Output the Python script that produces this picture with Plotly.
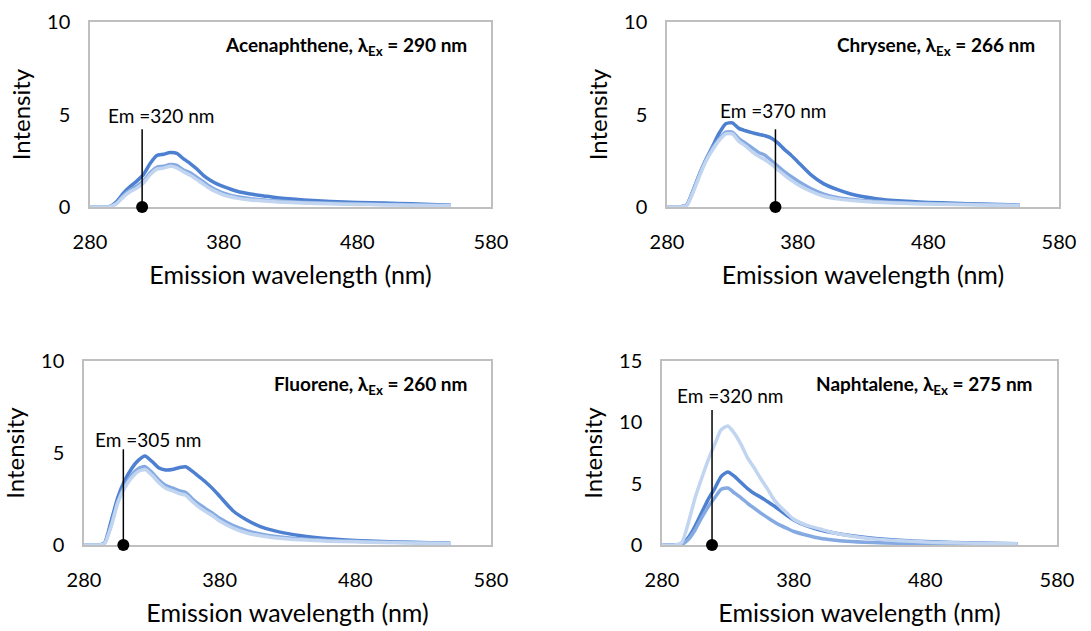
import plotly.graph_objects as go

# ---------------- data ----------------
wavelength = [280, 290, 295, 300, 305, 310, 315, 320, 325, 330, 335, 340, 345, 350, 355,
              360, 365, 370, 375, 380, 390, 400, 410, 420, 440, 460, 480, 500, 520, 550]

acen_dark = [0, 0, 0.03, 0.3, 0.75, 1.1, 1.4, 1.75, 2.35, 2.78, 2.85, 2.95, 2.9, 2.6, 2.35,
             2.05, 1.7, 1.45, 1.25, 1.1, 0.85, 0.7, 0.6, 0.5, 0.38, 0.3, 0.25, 0.21, 0.17, 0.1]
acen_med = [0, 0, 0.02, 0.22, 0.62, 0.92, 1.12, 1.4, 1.85, 2.15, 2.2, 2.3, 2.25, 2.0, 1.85,
            1.6, 1.35, 1.1, 0.9, 0.75, 0.55, 0.45, 0.38, 0.32, 0.25, 0.2, 0.17, 0.14, 0.12, 0.08]
acen_light = [0, 0, 0.02, 0.18, 0.55, 0.82, 1.02, 1.3, 1.75, 2.05, 2.1, 2.2, 2.12, 1.9, 1.72,
              1.48, 1.22, 0.98, 0.8, 0.65, 0.48, 0.38, 0.32, 0.27, 0.21, 0.17, 0.14, 0.12, 0.1, 0.07]

chry_dark = [0, 0, 0.1, 0.9, 1.8, 2.6, 3.3, 4.0, 4.5, 4.55, 4.25, 4.12, 4.02, 3.93, 3.85,
             3.72, 3.45, 3.1, 2.8, 2.45, 1.75, 1.25, 0.95, 0.72, 0.45, 0.32, 0.25, 0.2, 0.16, 0.1]
chry_med = [0, 0, 0.1, 0.9, 1.8, 2.6, 3.2, 3.7, 4.05, 4.05, 3.7, 3.45, 3.2, 2.95, 2.8,
            2.5, 2.2, 1.9, 1.65, 1.4, 1.0, 0.7, 0.52, 0.42, 0.3, 0.23, 0.19, 0.16, 0.13, 0.09]
chry_light = [0, 0, 0.08, 0.8, 1.7, 2.5, 3.1, 3.6, 3.95, 3.95, 3.55, 3.3, 3.0, 2.75, 2.55,
              2.3, 2.0, 1.72, 1.45, 1.22, 0.85, 0.58, 0.44, 0.36, 0.26, 0.2, 0.16, 0.13, 0.11, 0.08]

fluo_dark = [0, 0, 0.1, 1.3, 2.6, 3.5, 4.15, 4.6, 4.84, 4.55, 4.2, 4.08, 4.1, 4.2, 4.25,
             4.0, 3.7, 3.4, 3.05, 2.65, 1.85, 1.36, 1.0, 0.78, 0.5, 0.34, 0.25, 0.19, 0.15, 0.1]
fluo_med = [0, 0, 0.08, 1.1, 2.4, 3.2, 3.8, 4.15, 4.26, 3.95, 3.55, 3.25, 3.1, 2.95, 2.85,
            2.5, 2.2, 1.95, 1.72, 1.45, 1.05, 0.78, 0.6, 0.48, 0.33, 0.25, 0.2, 0.16, 0.13, 0.09]
fluo_light = [0, 0, 0.06, 1.0, 2.3, 3.1, 3.65, 4.0, 4.1, 3.8, 3.4, 3.1, 2.95, 2.8, 2.7,
              2.35, 2.05, 1.8, 1.58, 1.3, 0.92, 0.65, 0.5, 0.4, 0.28, 0.21, 0.17, 0.14, 0.11, 0.08]

naph_dark = [0, 0, 0.05, 0.6, 1.5, 2.6, 3.7, 4.6, 5.6, 5.95, 5.6, 5.1, 4.6, 4.2, 3.9,
             3.55, 3.2, 2.8, 2.4, 2.05, 1.55, 1.22, 1.0, 0.82, 0.55, 0.38, 0.28, 0.21, 0.16, 0.1]
naph_med = [0, 0, 0.05, 0.45, 1.2, 2.2, 3.1, 3.85, 4.55, 4.65, 4.25, 3.85, 3.4, 3.0, 2.6,
            2.25, 1.9, 1.6, 1.35, 1.1, 0.8, 0.55, 0.4, 0.3, 0.2, 0.15, 0.12, 0.1, 0.08, 0.06]
naph_light = [0, 0, 0.2, 1.8, 3.8, 5.4, 6.9, 8.2, 9.4, 9.7, 9.1, 8.2, 7.1, 6.3, 5.4,
              4.6, 3.7, 3.1, 2.6, 2.1, 1.6, 1.3, 1.0, 0.8, 0.5, 0.35, 0.25, 0.18, 0.14, 0.1]

titles = ["Acenaphthene, λ<sub>Ex</sub> = 290 nm", "Chrysene, λ<sub>Ex</sub> = 266 nm",
          "Fluorene, λ<sub>Ex</sub> = 260 nm", "Naphtalene, λ<sub>Ex</sub> = 275 nm"]
em_labels = ["Em =320 nm", "Em =370 nm", "Em =305 nm", "Em =320 nm"]
em_x = [319, 363, 309, 318]          # marker position on the wavelength axis
em_top = [4.2, 4.2, 5.2, 11.0]       # top of the vertical marker line
em_text_x = [333, 361, 327, 332]
em_text_y = [4.97, 5.24, 5.76, 12.2]
y_max = [10, 10, 10, 15]

x_ticks = [280, 380, 480, 580]

series = [
    (acen_dark, acen_med, acen_light),
    (chry_dark, chry_med, chry_light),
    (fluo_dark, fluo_med, fluo_light),
    (naph_dark, naph_med, naph_light),
]

# ---------------- layout ----------------
W, H = 1091, 631
boxes = [  # (left, right, top, bottom) in pixels
    (90, 491, 22, 207),
    (667, 1059, 22, 207),
    (84, 491, 361, 545),
    (662, 1057, 361, 545),
]
colors = ["#4D80D0", "#85AAE2", "#C1D5F1"]
FONT = "Lato"

fig = go.Figure()
layout = dict(
    width=W, height=H, margin=dict(l=0, r=0, t=0, b=0, autoexpand=False),
    paper_bgcolor="white", plot_bgcolor="white", showlegend=False,
    font=dict(family=FONT, color="black"),
)

annotations = []
for i, (l, r, t, b) in enumerate(boxes):
    n = "" if i == 0 else str(i + 1)
    xa, ya = "x" + n, "y" + n
    layout["xaxis" + n] = dict(
        domain=[l / W, r / W], anchor=ya, range=[280, 580], tickvals=x_ticks,
        automargin=False, layer="below traces",
        showgrid=False, zeroline=False, showline=True, linecolor="#BFBFBF", linewidth=1.5,
        mirror=True, ticks="outside", ticklen=16, tickcolor="rgba(0,0,0,0)",
        tickfont=dict(size=20, family=FONT),
        title=dict(text="Emission wavelength (nm)", font=dict(size=25, family=FONT), standoff=15),
    )
    layout["yaxis" + n] = dict(
        domain=[1 - b / H, 1 - t / H], anchor=xa, range=[0, y_max[i]], dtick=5,
        automargin=False, layer="below traces",
        showgrid=False, zeroline=False, showline=True, linecolor="#BFBFBF", linewidth=1.5,
        mirror=True, ticks="outside", ticklen=14, tickcolor="rgba(0,0,0,0)",
        tickfont=dict(size=20, family=FONT),
        title=dict(text="Intensity", font=dict(size=24, family=FONT), standoff=10),
    )
    for vals, c in zip(series[i], colors):
        fig.add_trace(go.Scatter(
            x=wavelength, y=vals, mode="lines", xaxis=xa, yaxis=ya,
            line=dict(color=c, width=3.5, shape="spline", smoothing=0.6),
            hoverinfo="skip",
        ))
    fig.add_trace(go.Scatter(
        x=[em_x[i], em_x[i]], y=[0, em_top[i]], mode="lines", xaxis=xa, yaxis=ya,
        line=dict(color="black", width=1.5), hoverinfo="skip", cliponaxis=False,
    ))
    fig.add_trace(go.Scatter(
        x=[em_x[i]], y=[0], mode="markers", xaxis=xa, yaxis=ya,
        marker=dict(color="black", size=12), hoverinfo="skip", cliponaxis=False,
    ))
    annotations.append(dict(
        text="<b>" + titles[i] + "</b>", xref=xa + " domain", yref=ya + " domain",
        x=1, y=1, xanchor="right", yanchor="middle", xshift=-22, yshift=-24,
        showarrow=False, font=dict(size=19, family=FONT, color="black"),
    ))
    annotations.append(dict(
        text=em_labels[i], xref=xa, yref=ya, x=em_text_x[i], y=em_text_y[i],
        xanchor="center", yanchor="middle", showarrow=False,
        font=dict(size=19, family=FONT, color="black"),
    ))

layout["annotations"] = annotations
fig.update_layout(**layout)
fig.write_html("out.html")
